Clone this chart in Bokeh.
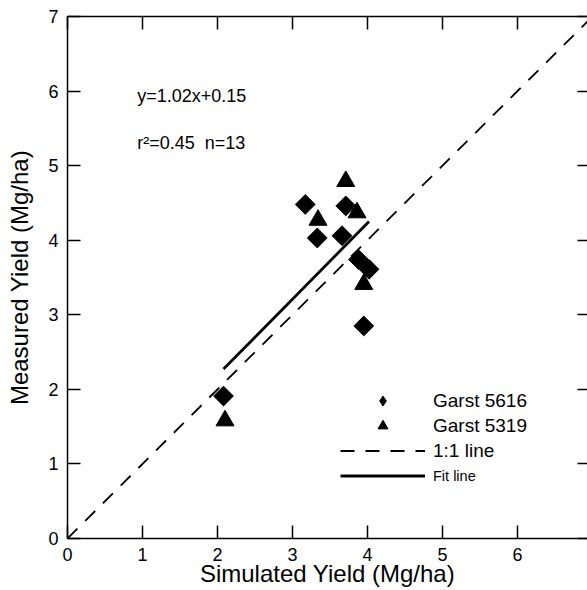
import math
from bokeh.plotting import figure
from bokeh.models import Range1d, LinearAxis, FixedTicker, Legend, LegendItem, Label
from bokeh.embed import file_html
from bokeh.resources import INLINE

# ---------------- data ----------------
g5616_sim = [3.17, 3.71, 3.33, 3.66, 3.88, 4.02, 3.95, 2.08]
g5616_meas = [4.48, 4.46, 4.03, 4.06, 3.74, 3.61, 2.85, 1.91]
g5319_sim = [3.71, 3.86, 3.34, 3.95, 2.10]
g5319_meas = [4.79, 4.37, 4.27, 3.41, 1.58]
fit_slope = 1.02
fit_intercept = 0.15
r2 = 0.45
n_obs = 13
one_to_one = [0, 7]
ticks = [0, 1, 2, 3, 4, 5, 6, 7]
series_names = ["Garst 5616", "Garst 5319", "1:1 line", "Fit line"]
x_label = "Simulated Yield (Mg/ha)"
y_label = "Measured Yield (Mg/ha)"

FONT = "Liberation Sans"

p = figure(width=587, height=590,
           x_range=Range1d(0, 6.933), y_range=Range1d(0, 7),
           output_backend="svg", toolbar_location=None,
           min_border_left=67, min_border_right=0,
           min_border_top=16, min_border_bottom=52,
           x_axis_label=x_label, y_axis_label=y_label)
p.grid.visible = False
p.outline_line_color = None
p.background_fill_color = "white"
p.border_fill_color = "white"


def style(ax, tick_in=13):
    ax.ticker = FixedTicker(ticks=ticks)
    ax.minor_tick_line_color = None
    ax.major_tick_in = tick_in
    ax.major_tick_out = 0
    ax.major_tick_line_width = 1.5
    ax.major_tick_line_color = "black"
    ax.axis_line_width = 1.5
    ax.axis_line_color = "black"
    ax.major_label_text_font = FONT
    ax.major_label_text_font_size = "18px"
    ax.major_label_text_color = "black"
    ax.axis_label_text_font = FONT
    ax.axis_label_text_font_style = "normal"
    ax.axis_label_text_color = "black"


def hide_labels(ax):
    ax.major_label_text_font_size = "0px"
    ax.major_label_text_color = None
    ax.major_label_text_alpha = 0
    ax.major_label_standoff = 0


xb = p.xaxis[0]
style(xb)
xb.major_label_standoff = 9
xb.axis_label_text_font_size = "24px"
xb.axis_label_standoff = -4

yl = p.yaxis[0]
style(yl)
yl.major_label_standoff = 9
yl.axis_label_text_font_size = "24px"
yl.axis_label_standoff = 12

top = LinearAxis()
style(top)
hide_labels(top)
p.add_layout(top, "above")

right = LinearAxis()
style(right, tick_in=10)
hide_labels(right)
right.axis_line_color = None
p.add_layout(right, "right")

# ---------------- glyphs ----------------
r_11 = p.line(one_to_one, one_to_one, line_dash="14 11", line_width=1.8,
              line_color="black")
all_x = g5616_sim + g5319_sim
fx = [min(all_x), max(all_x)]
fy = [fit_slope * v + fit_intercept for v in fx]
r_fit = p.line(fx, fy, line_width=2.8, line_color="black")

# diamond key for the legend, hidden beneath the larger diamonds below
r_d_key = p.scatter(g5616_sim, g5616_meas, marker="diamond", size=10,
                    fill_color="black", line_color="black")
p.scatter(g5616_sim, g5616_meas, marker="square", angle=math.pi / 4,
          size=14, fill_color="black", line_color="black")
r_t = p.scatter(g5319_sim, g5319_meas, marker="triangle", size=18,
                fill_color="black", line_color="black")

# ---------------- legends ----------------
def make_legend(items, loc, fsize):
    lg = Legend(items=items, location=loc)
    lg.padding = 0
    lg.margin = 0
    lg.spacing = 0
    lg.glyph_width = 85
    lg.glyph_height = 25
    lg.label_height = 20
    lg.label_standoff = 8
    lg.border_line_color = None
    lg.background_fill_alpha = 0
    lg.label_text_font = FONT
    lg.label_text_font_size = fsize
    lg.label_text_color = "black"
    return lg


leg1 = make_legend([LegendItem(label=series_names[0], renderers=[r_d_key]),
                    LegendItem(label=series_names[1], renderers=[r_t]),
                    LegendItem(label=series_names[2], renderers=[r_11])],
                   (273, 75), "19px")
leg2 = make_legend([LegendItem(label=series_names[3], renderers=[r_fit])],
                   (273, 50), "14.5px")
p.add_layout(leg1)
p.add_layout(leg2)

# ---------------- annotations ----------------
p.add_layout(Label(x=0.93, y=5.94, text=f"y={fit_slope:.2f}x+{fit_intercept:.2f}",
                   text_font=FONT, text_font_size="18px", text_color="black",
                   text_baseline="alphabetic"))
p.add_layout(Label(x=0.93, y=5.31, text=f"r\u00b2={r2:.2f}\u00a0 n={n_obs}",
                   text_font=FONT, text_font_size="18px", text_color="black",
                   text_baseline="alphabetic"))

open("out.html", "w").write(file_html(p, INLINE))
